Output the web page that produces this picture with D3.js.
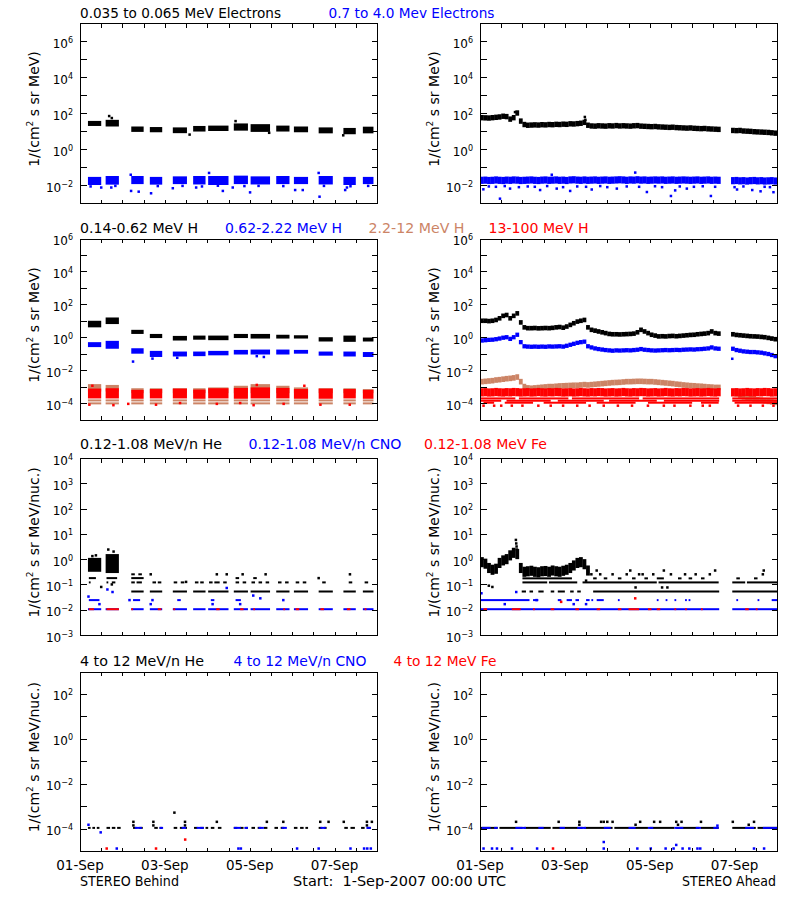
<!DOCTYPE html>
<html><head><meta charset="utf-8">
<script src="https://cdn.jsdelivr.net/npm/d3@7"></script>
<style>body{margin:0;background:#fff} text{font-family:"DejaVu Sans",sans-serif}</style>
</head><body><svg id="c" width="800" height="900"></svg>
<script>
// ================= DATA (values are log10 of intensity, times in hours from 1-Sep-2007 00:00 UTC) =================
const xTickHours = [0,12,24,36,48,60,72,84,96,108,120,132,144,156,168];
const xLabelHours = [0,48,96,144];
const xLabels = ["01-Sep","03-Sep","05-Sep","07-Sep"];

// STEREO Behind data coverage (hour ranges)
const behindSeg = [[4.5,12],[14.5,22],[29,36],[39.5,46.5],[52.5,60.5],[64,71],[72.5,84],[87,95],[96.5,107.5],[111,118.5],[121,129],[135,143],[149,156],[160,166]];

// ---- Row 1: electrons ----
const eLowB  = [[1.28,1.56],[1.25,1.62],[0.95,1.25],[0.93,1.22],[0.88,1.2],[0.97,1.28],[1.0,1.3],[1.02,1.42],[0.95,1.38],[0.97,1.3],[0.93,1.25],[0.87,1.2],[0.82,1.17],[0.87,1.24]];
const eLowBdots = [[16.5,1.83],[18,1.72],[88,1.55],[148.9,0.76],[107,0.9],[62,0.8]];
const eHighB = [[-2.0,-1.55],[-1.98,-1.5],[-1.95,-1.5],[-1.98,-1.55],[-1.95,-1.52],[-1.97,-1.5],[-2.0,-1.5],[-1.95,-1.48],[-1.97,-1.52],[-1.95,-1.5],[-1.95,-1.55],[-1.97,-1.5],[-2.0,-1.55],[-1.95,-1.55]];
const eHighBdots = [[12,-2.14],[17.7,-2.14],[28.9,-2.33],[33.2,-2.37],[40.2,-2.46],[52.5,-2.18],[65.7,-2.14],[80.8,-2.33],[86.4,-2.14],[96.2,-2.41],[121.7,-2.28],[126,-2.28],[135.5,-2.65],[150,-2.28],[151,-2.14],[73,-1.33],[135,-1.33],[28.7,-1.43],[6,-2.08],[20,-2.05],[44,-2.06],[58,-2.05],[69,-2.08],[78,-2.04],[93,-2.06],[101,-2.05],[115,-2.06],[138,-2.05],[153,-2.07],[163,-2.05]];
const eLowA = [1.74,1.73,1.72,1.74,1.76,1.78,1.82,1.80,1.66,1.74,
  2.0,1.55,1.36,1.32,1.33,1.34,1.33,1.35,1.34,1.36,
  1.35,1.37,1.36,1.38,1.37,1.40,1.39,1.41,1.43,1.48,
  1.32,1.28,1.27,1.29,1.28,1.27,1.29,1.28,1.30,1.28,
  1.29,1.28,1.27,1.29,1.30,1.27,1.26,1.25,1.24,1.25,
  1.23,1.22,1.21,1.20,1.21,1.19,1.18,1.17,1.16,1.17,
  1.15,1.14,1.13,1.14,1.12,1.11,1.10,1.09,null,null,
  null,1.03,1.02,1.03,1.0,0.99,0.98,0.96,0.95,0.94,
  0.93,0.92,0.90,0.88];
const eLowAspread = 0.15;
const eLowAdots = [[59.3,1.78],[59.6,1.62],[19.8,2.05]];
const eHighA = [-1.74,-1.73,-1.75,-1.74,-1.72,-1.74,-1.75,-1.73,-1.74,-1.72,
  -1.73,-1.75,-1.74,-1.73,-1.72,-1.74,-1.75,-1.73,-1.72,-1.74,
  -1.73,-1.72,-1.74,-1.73,-1.75,-1.72,-1.71,-1.73,-1.74,-1.72,
  -1.74,-1.73,-1.72,-1.74,-1.73,-1.72,-1.74,-1.73,-1.72,-1.71,
  -1.72,-1.74,-1.72,-1.73,-1.71,-1.73,-1.72,-1.74,-1.73,-1.72,
  -1.73,-1.72,-1.74,-1.73,-1.72,-1.74,-1.73,-1.72,-1.73,-1.74,
  -1.73,-1.72,-1.74,-1.73,-1.72,-1.74,-1.73,-1.74,null,null,
  null,-1.76,-1.75,-1.77,-1.76,-1.78,-1.76,-1.75,-1.77,-1.76,
  -1.78,-1.77,-1.76,-1.78];
const eHighAspread = 0.2;
const eHighAdots = [[1.9,-2.24],[11.3,-2.76],[17,-2.2],[34,-2.28],[43.4,-2.2],[51,-2.33],[63.2,-2.25],[77.4,-2.2],[94.4,-2.39],[108,-2.61],[110.4,-2.3],[117,-2.2],[130.6,-2.61],[145.4,-2.25],[154,-2.28],[158.7,-2.35],[166,-2.4],[87.8,-1.31],[40.6,-1.43],
  [5,-2.08],[9,-2.1],[14,-2.06],[22,-2.12],[27,-2.08],[31,-2.1],[38,-2.06],[47,-2.12],[55,-2.08],[60,-2.1],[68,-2.06],[72,-2.12],[83,-2.08],[90,-2.1],[99,-2.07],[103,-2.12],[113,-2.08],[121,-2.1],[126,-2.07],[133,-2.1],[144,-2.12],[149,-2.08],[161,-2.1],[164,-2.12]];

// ---- Row 2: protons ----
const hLowB  = [[0.6,1.0],[0.8,1.2],[0.2,0.45],[-0.05,0.2],[-0.2,0.08],[-0.15,0.1],[-0.18,0.1],[-0.05,0.2],[-0.08,0.2],[-0.08,0.15],[-0.08,0.12],[-0.26,0.0],[-0.28,0.1],[-0.26,-0.02]];
const hMidB  = [[-0.6,-0.3],[-0.7,-0.22],[-1.0,-0.67],[-1.2,-0.83],[-1.17,-0.87],[-1.15,-0.87],[-1.1,-0.83],[-1.05,-0.77],[-1.05,-0.75],[-1.05,-0.75],[-1.0,-0.77],[-1.12,-0.87],[-1.17,-0.87],[-1.2,-0.9]];
const hMidBdots = [[30,-1.48],[41,-1.3],[55,-1.25],[100,-1.15],[104,-1.2]];
const hHighBtop = [[-3.3,-2.85],[-3.3,-2.9],[-3.4,-3.1],[-3.4,-3.1],[-3.4,-3.1],[-3.4,-3.1],[-3.4,-3.05],[-3.4,-2.95],[-3.4,-2.85],[-3.4,-2.95],[-3.4,-3.05],[-3.4,-3.1],[-3.4,-3.1],[-3.4,-3.15]];
const hHighBLevels = [-3.84,-4.02];
const hVHighB = [[-3.72,-3.12],[-3.72,-3.1],[-3.74,-3.2],[-3.72,-3.15],[-3.72,-3.12],[-3.74,-3.18],[-3.72,-3.1],[-3.74,-3.08],[-3.72,-3.05],[-3.72,-3.08],[-3.74,-3.15],[-3.74,-3.12],[-3.72,-3.15],[-3.74,-3.2]];
const hVHighBdots = [[5.3,-4.1],[18.9,-4.13],[27.3,-4.05],[43,-4.1],[56.6,-4.0],[77.4,-4.05],[90.6,-4.0],[98.2,-4.13],[115.2,-4.05],[126.9,-2.95],[136,-4.1],[152.6,-4.1],[100,-2.9],[7,-2.95]];
const hLowA = [1.00,1.00,0.98,1.00,1.05,1.15,1.30,1.35,1.15,1.30,
  1.45,0.90,0.60,0.55,0.55,0.56,0.54,0.55,0.56,0.55,
  0.57,0.60,0.62,0.58,0.65,0.75,0.85,0.95,1.00,1.05,
  0.60,0.45,0.40,0.35,0.30,0.25,0.20,0.18,0.18,0.17,
  0.18,0.19,0.20,0.22,0.30,0.45,0.35,0.25,0.15,0.10,
  0.05,0.06,0.05,0.07,0.08,0.06,0.08,0.10,0.12,0.14,
  0.15,0.18,0.20,0.22,0.25,0.35,0.25,0.22,null,null,
  null,0.18,0.14,0.12,0.10,0.08,0.06,0.05,0.04,0.02,
  0.00,-0.04,-0.08,-0.12];
const hLowAspread = 0.14;
const hMidA = [-0.20,-0.18,-0.16,-0.15,-0.12,-0.08,-0.03,0.00,-0.10,0.00,
  0.15,-0.30,-0.55,-0.57,-0.58,-0.57,-0.58,-0.57,-0.58,-0.56,
  -0.57,-0.56,-0.55,-0.57,-0.52,-0.46,-0.40,-0.34,-0.30,-0.27,
  -0.55,-0.62,-0.68,-0.72,-0.75,-0.78,-0.80,-0.82,-0.80,-0.81,
  -0.80,-0.79,-0.80,-0.78,-0.76,-0.72,-0.76,-0.78,-0.80,-0.81,
  -0.80,-0.79,-0.78,-0.79,-0.78,-0.77,-0.78,-0.76,-0.75,-0.74,
  -0.75,-0.73,-0.72,-0.70,-0.68,-0.62,-0.68,-0.70,null,null,
  null,-0.70,-0.78,-0.82,-0.86,-0.88,-0.90,-0.90,-0.92,-0.94,
  -0.98,-1.02,-1.08,-1.15];
const hMidAspread = 0.13;
const hMidAdots = [[142.7,-1.31]];
const hHighA = [-2.70,-2.68,-2.66,-2.64,-2.60,-2.58,-2.55,-2.52,-2.50,-2.47,
  -2.42,-2.70,-3.00,-3.08,-3.10,-3.08,-3.06,-3.04,-3.02,-3.00,
  -3.00,-2.98,-2.96,-2.95,-2.94,-2.93,-2.92,-2.92,-2.90,-2.88,
  -2.90,-2.88,-2.86,-2.84,-2.82,-2.80,-2.78,-2.76,-2.75,-2.74,
  -2.72,-2.70,-2.70,-2.69,-2.68,-2.68,-2.69,-2.70,-2.70,-2.72,
  -2.74,-2.76,-2.78,-2.80,-2.82,-2.85,-2.87,-2.90,-2.92,-2.94,
  -2.95,-2.97,-2.98,-3.00,-3.02,-3.03,-3.05,-3.05,null,null,
  null,-3.30,-3.45,-3.55,-3.62,-3.68,-3.72,-3.76,-3.80,-3.83,
  -3.86,-3.90,-3.93,-3.96];
const hHighAspread = 0.17;
const hVHighA = [-3.35,-3.34,-3.36,-3.35,-3.33,-3.35,-3.36,-3.34,-3.35,-3.33,
  -3.34,-3.36,-3.35,-3.34,-3.36,-3.35,-3.33,-3.35,-3.36,-3.34,
  -3.35,-3.33,-3.34,-3.36,-3.35,-3.34,-3.36,-3.35,-3.33,-3.35,
  -3.36,-3.34,-3.35,-3.33,-3.34,-3.36,-3.35,-3.34,-3.36,-3.35,
  -3.33,-3.35,-3.36,-3.34,-3.35,-3.33,-3.34,-3.36,-3.35,-3.34,
  -3.36,-3.35,-3.33,-3.35,-3.36,-3.34,-3.35,-3.33,-3.34,-3.36,
  -3.35,-3.34,-3.36,-3.35,-3.33,-3.35,-3.36,-3.34,null,null,
  null,-3.35,-3.34,-3.36,-3.35,-3.33,-3.35,-3.36,-3.34,-3.35,
  -3.33,-3.34,-3.36,-3.35];
const hVHighAspread = 0.25;
const hVHighALevels = [[-3.72,[[0,20],[22,50],[52,90],[92,135.3],[142.7,168]]],[-3.86,[[0,12],[15,40],[44,70],[73,100],[104,135.3],[142.7,168]]],[-3.98,[[2,8],[14,30],[36,60],[66,88],[95,120],[125,135],[144,168]]]];
const hVHighAdots = [[2,-4.16],[8,-4.16],[12,-4.16],[18,-4.16],[24,-4.16],[33,-4.16],[40,-4.16],[47,-4.16],[55,-4.16],[62,-4.16],[70,-4.16],[78,-4.16],[86,-4.16],[95,-4.16],[104,-4.16],[110,-4.16],[119,-4.16],[126,-4.16],[130,-4.16],[146,-4.16],[153,-4.16],[160,-4.16],[166,-4.16]];

// ---- Row 3: 0.12-1.08 MeV/n ions ----
const heBblob = [[4.5,12,-0.5,0.05],[14.5,22,-0.55,0.2]];
const heBLevels = [[-1.28,[[29,36],[39.5,46.5],[52.5,60.5],[64,71],[72.5,84],[87,95],[96.5,107.5],[111,118.5],[121,129],[135,143],[149,156],[160,166]]],
  [-0.92,[[5,6],[15,16],[18,20],[29,31],[32,35],[41,43],[44,46],[53,55],[57,59],[65,67],[68,70],[73,75],[76,79],[81,83],[88,90],[92,94],[97,99],[101,103],[105,107],[112,114],[116,118],[122,124],[126,128],[137,139],[152,154],[161,163]]],
  [-0.75,[[5,9],[15,21],[29,36],[88,90],[98,100]]],
  [-0.6,[[29,31],[33,35]]]];
const heBdots = [[16,0.38],[9,0.15],[7,0.12],[19,0.3],[40,-0.6],[77.4,-0.6],[83,-0.6],[92,-0.6],[105,-0.6],[152.7,-0.6],[60,-0.9],[135,-0.75],[12,-1.1],[18,-1.0]];
const cnoBLevels = [[-1.98,[[4.5,12],[14.5,22],[29,36],[39.5,46.5],[52.5,60.5],[64,71],[72.5,84],[87,95],[96.5,107.5],[111,118.5],[121,129],[135,143],[149,156],[160,166]]],
  [-1.62,[[5,11],[30,34],[55,57],[74,76],[88,91]]]];
const cnoBdots = [[4.8,-1.48],[15.5,-1.2],[18.4,-1.3],[83,-1.14],[98,-1.44],[102,-1.55],[11,-1.78],[40,-1.78],[75,-1.78],[90.6,-1.78],[41,-1.62],[28,-1.62],[115,-1.62]];
const feBLevels = [[-1.98,[[5,7.9],[15,22],[29,30],[44,46],[52.8,53.8],[77,79],[90.6,92.5],[98,99],[115,116],[122,124],[136,138],[151,153],[161,162]]]];
const heA = [-0.12,-0.18,-0.35,-0.42,-0.38,-0.15,-0.05,0.00,0.15,0.25,
  0.20,-0.35,-0.50,-0.48,-0.46,-0.50,-0.52,-0.48,-0.47,-0.50,
  -0.45,-0.48,-0.50,-0.46,-0.42,-0.35,-0.25,-0.15,-0.12,-0.20,-0.45];
const heAspread = 0.2;
const heALevels = [[-1.28,[[23.6,26],[28,30],[33,36],[40,42],[44,48],[51,53],[55,57],[64,135.3],[142.7,168]]],
  [-0.92,[[24,38],[39,55],[58,100],[101,135],[142.7,150],[151,168]]],
  [-0.76,[[24,52],[64,66],[70,72],[78,80],[86,88],[93,95],[100,104],[112,114],[118,120],[125,127],[145,147],[155,157]]]];
const heAdots = [[20.3,0.76],[20.5,0.62],[20.7,0.5],[20.9,0.38],[63,-0.6],[68,-0.6],[75,-0.6],[83,-0.6],[90,-0.6],[92,-0.6],[98,-0.6],[108,-0.6],[116,-0.6],[122,-0.6],[130,-0.6],[160,-0.6],[66,-0.45],[85,-0.45],[104,-0.45],[133,-0.45],[160.5,-0.45],[88,-1.12],[103,-1.12],[106,-1.12],[5,-1.05],[7,-1.1],[60,-0.85]];
const cnoALevels = [[-1.98,[[0,135.3],[142.7,168]]],[-1.62,[[0,28],[30,33],[44,46],[49,52],[54,56],[60,62],[63,64],[66,70],[78,79],[100,101],[105,106],[110,111],[116,117],[118,119],[145,146],[157,158],[165,168]]]];
const cnoAdots = [[20.5,-1.3],[0.8,-1.35],[14,-1.78],[53,-1.78],[60,-1.78],[32,-1.62]];
const feALevels = [[-1.98,[[2,4],[18,23],[30,31],[40,42],[54,56],[66,68],[78,80],[84,90],[95,97],[100,102],[110,111],[116,117],[125,126],[150,152],[156,157]]]];
const feAdots = [[45.9,-1.69],[87.8,-1.55]];

// ---- Row 4: 4-12 MeV/n ions ----
const he4BLevels = [[-3.97,[[4.5,6],[7,8.5],[9.5,11],[15,17],[18,20],[21,23],[30,32],[33.5,35.5],[42,44],[45,46.5],[53,55],[56.5,58.5],[59.5,60.5],[64.5,66.5],[68,70],[71,72.5],[74,76],[78,80],[87,89],[90.5,92.5],[93.5,95],[97,99],[100.5,102.5],[104,106],[110,112],[113.5,115.5],[121,123],[124.5,126.5],[127.5,129],[135,137],[138,139.5],[149.5,151.5],[153,155.5],[159,161],[162.5,164.5]]]];
const he4Bdots = [[30.2,-3.7],[41.5,-3.7],[59.4,-3.7],[77.4,-3.7],[105.7,-3.7],[115,-3.7],[135.9,-3.7],[140.6,-3.7],[149.2,-3.7],[162.3,-3.7],[165.1,-3.7],[53.4,-3.29],[30.2,-3.86],[41.5,-3.86],[59.4,-3.86],[162.3,-3.86]];
const cno4BLevels = [[-3.97,[[31,35],[45,47],[57.5,60],[66,70],[87,91],[93,95],[101,104],[114,117],[136,139],[162,164.5]]]];
const cno4Bdots = [[4.8,-3.83],[11.7,-4.17],[20.8,-4.89],[89.6,-4.89],[91,-4.89],[122.8,-4.89],[135,-4.89],[153,-4.89],[160.7,-4.89],[162.5,-4.89],[164.5,-4.89]];
const fe4Bdots = [[15.1,-4.89],[43,-4.89],[59.5,-4.49]];
const he4ALevels = [[-3.97,[[0.5,10],[11,24],[25,40],[41,58],[59,75],[76,95],[96,110],[111,124],[125,135],[142.7,156],[157,168]]]];
const he4Adots = [[20.4,-3.7],[44.5,-3.7],[56.2,-3.7],[68.5,-3.7],[70,-3.7],[72,-3.7],[75,-3.7],[90.6,-3.7],[98.5,-3.7],[101.9,-3.7],[111,-3.7],[114,-3.7],[125,-3.7],[143,-3.7],[155,-3.7],[56.2,-3.83],[88,-3.83],[112,-3.83],[152,-3.83]];
const cno4ALevels = [[-3.97,[[1,6],[8,10],[20,26],[33,36],[45,48],[55,60],[70,74],[84,88],[95,98],[110,115],[122,125],[132,135],[150,155],[160,168]]]];
const cno4Adots = [[2,-4.89],[6.8,-4.89],[9.6,-4.89],[18.1,-4.89],[32.3,-4.89],[70,-4.89],[89,-4.89],[96.6,-4.89],[105,-4.89],[109.5,-4.89],[114.6,-4.89],[118.4,-4.89],[123,-4.89],[124.6,-4.89],[155,-4.89],[160.7,-4.89],[70,-4.6],[111,-4.73],[134.3,-3.87]];
const fe4Adots = [[41.3,-4.89]];

// ================= DRAWING =================
const COL = {k:"#000000", b:"#0000ff", s:"#cc8466", r:"#ff0000"};
const T0 = Date.UTC(2007,8,1);
const hr = h => new Date(T0 + h*3600e3);
const svg = d3.select("#c");
svg.append("rect").attr("width",800).attr("height",900).attr("fill","#fff");

const rows = [
  {top:23, bot:203, dom:[-3,7], tk:d3.range(-2,7), lab:[-2,0,2,4,6], unit:"MeV)"},
  {top:238.5, bot:419.5, dom:[-5,6], tk:d3.range(-4,6), lab:[-4,-2,0,2,4,6], unit:"MeV)"},
  {top:458, bot:635, dom:[-3,4], tk:d3.range(-2,4), lab:[-3,-2,-1,0,1,2,3,4], unit:"MeV/nuc.)"},
  {top:671.5, bot:851, dom:[-5,3], tk:d3.range(-4,3), lab:[-4,-2,0,2], unit:"MeV/nuc.)"}
];
const W = 297;

function makePanel(x0, row, last) {
  const x = d3.scaleUtc().domain([hr(0), hr(168)]).range([x0, x0+W]);
  const y = d3.scaleLog().domain([10**row.dom[0], 10**row.dom[1]]).range([row.bot, row.top]);
  const g = svg.append("g");
  const data = g.append("g");
  const ax = g.append("g").attr("shape-rendering","crispEdges");
  const yv = row.tk.map(e=>10**e);
  const xv = xTickHours.map(hr);
  ax.append("g").attr("transform",`translate(${x0+0.5},0)`).call(d3.axisLeft(y).tickValues(yv).tickSize(-6).tickFormat(""));
  ax.append("g").attr("transform",`translate(${x0+W+0.5},0)`).call(d3.axisRight(y).tickValues(yv).tickSize(-6).tickFormat(""));
  ax.append("g").attr("transform",`translate(0,${row.bot+0.5})`).call(d3.axisBottom(x).tickValues(xv).tickSize(-4).tickFormat(""));
  ax.append("g").attr("transform",`translate(0,${row.top+0.5})`).call(d3.axisTop(x).tickValues(xv).tickSize(-4).tickFormat(""));
  ax.selectAll(".domain").remove();
  ax.selectAll("line").attr("stroke","#000");
  ax.append("rect").attr("x",x0+0.5).attr("y",row.top+0.5).attr("width",W).attr("height",row.bot-row.top)
    .attr("fill","none").attr("stroke","#000");
  // y tick labels
  row.lab.forEach(e=>{
    const t = g.append("text").attr("x",x0-7).attr("y",y(10**e)+6.5).attr("text-anchor","end").attr("font-size",12).attr("fill","#000");
    t.append("tspan").text("10");
    t.append("tspan").attr("dy",-5).attr("font-size",8).text(String(e).replace("-","\u2212"));
  });
  // y title
  const cy = (row.top+row.bot)/2 - 4;
  const tt = g.append("text").attr("transform",`translate(${x0-41},${cy}) rotate(-90)`).attr("text-anchor","middle").attr("font-size",14).attr("fill","#000");
  tt.append("tspan").text("1/(cm");
  tt.append("tspan").attr("dy",-6).attr("font-size",9).text("2");
  tt.append("tspan").attr("dy",6).text(" s sr " + row.unit);
  if (last) {
    xLabelHours.forEach((h,i)=>{
      g.append("text").attr("x",x(hr(h))).attr("y",870).attr("text-anchor","middle").attr("font-size",13.5).text(xLabels[i]);
    });
  }
  return {g:data, x, y};
}

// helpers
function rect(P, t0, t1, lo, hi, color, minH) {
  const xa = P.x(hr(t0)), xb = P.x(hr(t1));
  const ya = P.y(10**hi), yb = P.y(10**lo);
  const h = Math.max(minH||2, yb-ya);
  P.g.append("rect").attr("x",xa).attr("y",(ya+yb)/2 - h/2).attr("width",Math.max(1.5,xb-xa)).attr("height",h).attr("fill",color);
}
function band(P, centers, spread, color) {
  centers.forEach((c,i)=>{ if (c!==null) rect(P, i*2, i*2+2.15, c-spread, c+spread, color); });
}
function segBands(P, segs, ranges, color) {
  ranges.forEach((r,i)=>{ const s = segs[i]; rect(P, s[0], s[1], r[0], r[1], color); });
}
function strips(P, list, color) { list.forEach(s=>rect(P, s[0], s[1], s[2], s[3], color)); }
function levels(P, list, color) {
  list.forEach(([v, spans])=>spans.forEach(sp=>rect(P, sp[0], sp[1], v, v, color, 2)));
}
function dots(P, list, color) {
  list.forEach(([t,v])=>{
    P.g.append("rect").attr("x",P.x(hr(t))-1.25).attr("y",P.y(10**v)-1.25).attr("width",2.5).attr("height",2.5).attr("fill",color);
  });
}

// Row 1
let L = makePanel(80, rows[0]), R = makePanel(480, rows[0]);
segBands(L, behindSeg, eLowB, COL.k); dots(L, eLowBdots, COL.k);
segBands(L, behindSeg, eHighB, COL.b); dots(L, eHighBdots, COL.b);
band(R, eLowA, eLowAspread, COL.k); dots(R, eLowAdots, COL.k);
band(R, eHighA, eHighAspread, COL.b); dots(R, eHighAdots, COL.b);

// Row 2
L = makePanel(80, rows[1]); R = makePanel(480, rows[1]);
segBands(L, behindSeg, hLowB, COL.k);
segBands(L, behindSeg, hMidB, COL.b); dots(L, hMidBdots, COL.b);
segBands(L, behindSeg, hHighBtop, COL.s);
levels(L, hHighBLevels.map(v=>[v, behindSeg]), COL.s);
segBands(L, behindSeg, hVHighB, COL.r); dots(L, hVHighBdots, COL.r);
band(R, hLowA, hLowAspread, COL.k);
band(R, hMidA, hMidAspread, COL.b); dots(R, hMidAdots, COL.b);
band(R, hHighA, hHighAspread, COL.s);
band(R, hVHighA, hVHighAspread, COL.r); levels(R, hVHighALevels, COL.r); dots(R, hVHighAdots, COL.r);

// Row 3
L = makePanel(80, rows[2]); R = makePanel(480, rows[2]);
strips(L, heBblob, COL.k); levels(L, heBLevels, COL.k); dots(L, heBdots, COL.k);
levels(L, cnoBLevels, COL.b); dots(L, cnoBdots, COL.b);
levels(L, feBLevels, COL.r);
band(R, heA, heAspread, COL.k); levels(R, heALevels, COL.k); dots(R, heAdots, COL.k);
levels(R, cnoALevels, COL.b); dots(R, cnoAdots, COL.b);
levels(R, feALevels, COL.r); dots(R, feAdots, COL.r);

// Row 4
L = makePanel(80, rows[3], true); R = makePanel(480, rows[3], true);
levels(L, he4BLevels, COL.k); dots(L, he4Bdots, COL.k);
levels(L, cno4BLevels, COL.b); dots(L, cno4Bdots, COL.b);
dots(L, fe4Bdots, COL.r);
levels(R, he4ALevels, COL.k); dots(R, he4Adots, COL.k);
levels(R, cno4ALevels, COL.b); dots(R, cno4Adots, COL.b);
dots(R, fe4Adots, COL.r);

// Titles
const titles = [
  [18, [["0.035 to 0.065 MeV Electrons",80,201,COL.k],["0.7 to 4.0 Mev Electrons",328.5,166,COL.b]]],
  [233, [["0.14-0.62 MeV H",80,118,COL.k],["0.62-2.22 MeV H",225,117,COL.b],["2.2-12 MeV H",368.5,96,COL.s],["13-100 MeV H",488.5,100,COL.r]]],
  [449, [["0.12-1.08 MeV/n He",80,142,COL.k],["0.12-1.08 MeV/n CNO",248.5,153,COL.b],["0.12-1.08 MeV Fe",424,123,COL.r]]],
  [666, [["4 to 12 MeV/n He",80,124,COL.k],["4 to 12 MeV/n CNO",233.5,133,COL.b],["4 to 12 MeV Fe",393.5,103,COL.r]]]
];
titles.forEach(([yy, items])=>items.forEach(([txt,xx,w,c])=>{
  svg.append("text").attr("x",xx).attr("y",yy).attr("font-size",13.5).attr("fill",c)
    .attr("textLength",w).attr("lengthAdjust","spacingAndGlyphs").text(txt);
}));
svg.append("text").attr("x",80).attr("y",885.5).attr("font-size",13.5).attr("textLength",99).attr("lengthAdjust","spacingAndGlyphs").text("STEREO Behind");
svg.append("text").attr("x",293).attr("y",885.5).attr("font-size",13.5).attr("textLength",213).attr("lengthAdjust","spacingAndGlyphs").attr("xml:space","preserve").style("white-space","pre").text("Start:  1-Sep-2007 00:00 UTC");
svg.append("text").attr("x",776).attr("y",885.5).attr("font-size",13.5).attr("text-anchor","end").attr("textLength",94).attr("lengthAdjust","spacingAndGlyphs").text("STEREO Ahead");
</script></body></html>
